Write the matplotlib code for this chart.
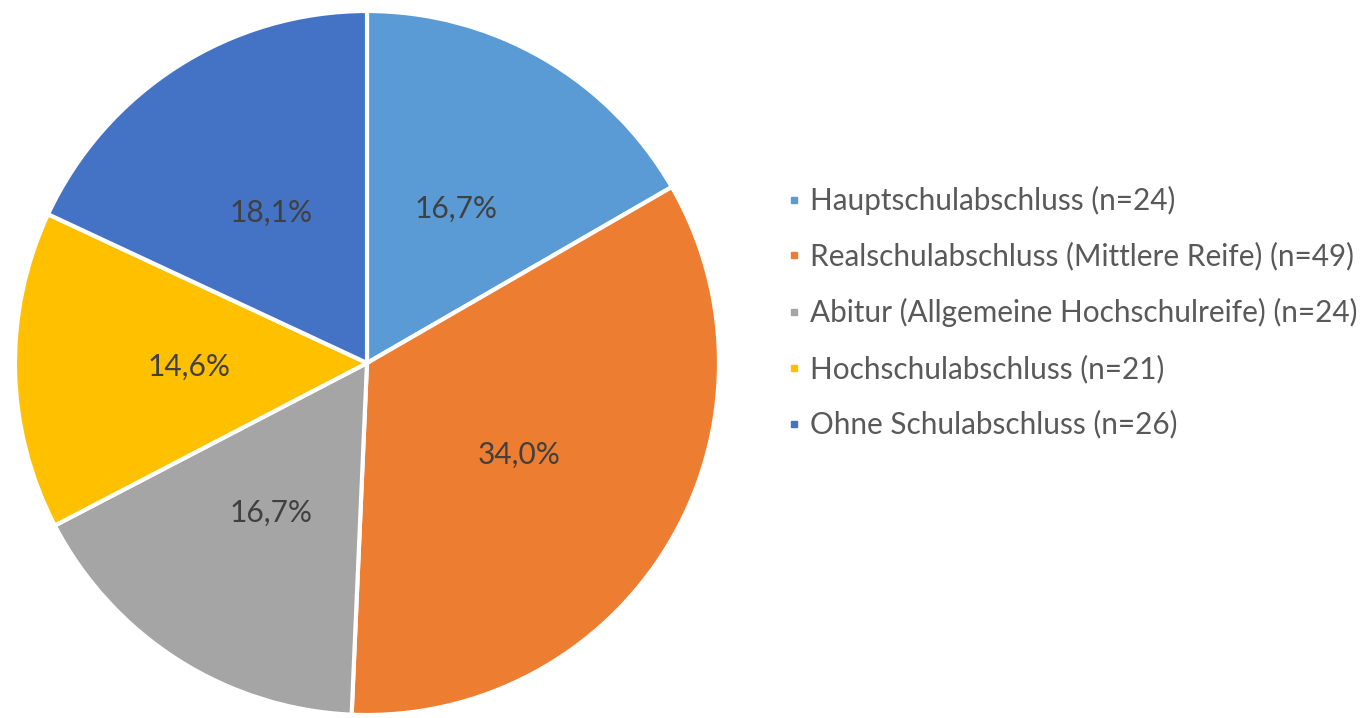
import matplotlib
matplotlib.use("Agg")
import matplotlib.pyplot as plt
from matplotlib.lines import Line2D

categories = [
    "Hauptschulabschluss (n=24)",
    "Realschulabschluss (Mittlere Reife) (n=49)",
    "Abitur (Allgemeine Hochschulreife) (n=24)",
    "Hochschulabschluss (n=21)",
    "Ohne Schulabschluss (n=26)",
]
counts = [24, 49, 24, 21, 26]
colors = ["#5B9BD5", "#ED7D31", "#A5A5A5", "#FFC000", "#4472C4"]

plt.rcParams['font.family'] = ['Lato', 'DejaVu Sans']

fig = plt.figure(figsize=(13.67, 7.18), dpi=100)
ax = fig.add_axes([15/1367, 3/718, 704/1367, 704/718])

def fmt(p):
    return f"{p:.1f}%".replace(".", ",")

wedges, texts, autotexts = ax.pie(
    counts, colors=colors, startangle=90, counterclock=False,
    autopct=fmt, pctdistance=0.505, radius=1,
    wedgeprops=dict(edgecolor="white", linewidth=3),
    textprops=dict(color="#404040", fontsize=21.5),
)
ax.set_xlim(-1.0, 1.0)
ax.set_ylim(-1.0, 1.0)
ax.set_aspect("equal")
ax.axis("off")

handles = [Line2D([0], [0], marker="s", linestyle="none", markersize=5,
                  markerfacecolor=c, markeredgecolor=c) for c in colors]
fig.legend(handles, categories, loc="upper left",
           bbox_to_anchor=(773/1367, 1 - 174/718), frameon=False,
           fontsize=21.4, labelspacing=0.915, handletextpad=0.25,
           handlelength=0.6, labelcolor="#595959", borderaxespad=0)

fig.savefig("out.png", dpi=100, facecolor="white")
